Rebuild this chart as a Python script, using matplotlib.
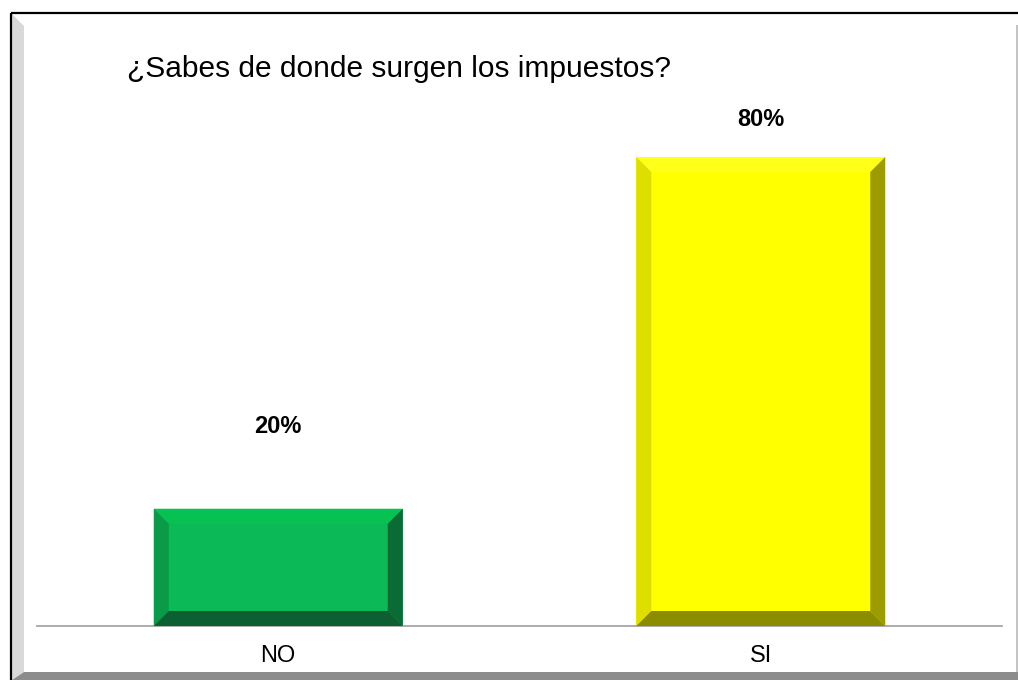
import matplotlib.pyplot as plt
from matplotlib.patches import Polygon, Rectangle
from matplotlib.transforms import IdentityTransform

plt.rcParams['font.family'] = ['Liberation Sans', 'DejaVu Sans']

# Datos de la encuesta
categorias = ['NO', 'SI']
porcentajes = [20, 80]
titulo = '¿Sabes de donde surgen los impuestos?'

# Colores de cada barra: cara, bisel sup, izq, der, inf
colores = {
    'NO': ['#0bba56', '#05c252', '#0a9a48', '#0b6b35', '#0b5f30'],
    'SI': ['#ffff00', '#ffff1a', '#dede00', '#9c9c00', '#8c8c00'],
}
label_pad = [82, 37]  # separación (px) entre la barra y su etiqueta
bisel = 15            # ancho del bisel en px

W, H, DPI = 1018, 680, 100
fig = plt.figure(figsize=(W / DPI, H / DPI), dpi=DPI)
fig.patch.set_facecolor('white')

# Marco exterior en coordenadas de pixel
bg = fig.add_axes([0, 0, 1, 1], zorder=-1)
bg.set_xlim(0, W)
bg.set_ylim(H, 0)
bg.axis('off')
bg.add_patch(Polygon([(12, 14), (24, 26), (24, 672), (12, 680)], closed=True,
                     facecolor='#d9d9d9', edgecolor='none'))
bg.add_patch(Polygon([(24, 672), (W, 672), (W, 680), (12, 680)], closed=True,
                     facecolor='#8c8c8c', edgecolor='none'))
bg.add_patch(Rectangle((1016, 25), 2, 647, facecolor='#c4c4c4', edgecolor='none'))
bg.add_patch(Rectangle((11, 13), 1100, 700, facecolor='none', edgecolor='black',
                       linewidth=1.6))

# Área de la gráfica
base_px, top_px = 626, 30
left_px, right_px = 37, 1002
px_por_unidad = (626 - 157) / 80
ax = fig.add_axes([left_px / W, (H - base_px) / H, (right_px - left_px) / W,
                   (base_px - top_px) / H])
ax.set_xlim(-0.5, 1.5)
ax.set_ylim(0, (base_px - top_px) / px_por_unidad)
ax.patch.set_alpha(0)
for s in ['top', 'left', 'right']:
    ax.spines[s].set_visible(False)
ax.spines['bottom'].set_color('#a6a6a6')
ax.spines['bottom'].set_linewidth(1.3)
ax.set_yticks([])
ax.set_xticks(range(len(categorias)))
ax.set_xticklabels(categorias, fontsize=17)
ax.tick_params(axis='x', length=0, pad=14)

barras = ax.bar(range(len(categorias)), porcentajes, width=0.516, zorder=2,
                color=[colores[c][0] for c in categorias])

# Biseles de cada barra
for rect, cat, val, pad in zip(barras, categorias, porcentajes, label_pad):
    (x0, y0), (x1, y1) = ax.transData.transform(
        [(rect.get_x(), 0), (rect.get_x() + rect.get_width(), val)])
    b = bisel
    cara, c_sup, c_izq, c_der, c_inf = colores[cat]
    caras = [
        ([(x0, y1), (x1, y1), (x1 - b, y1 - b), (x0 + b, y1 - b)], c_sup),
        ([(x0, y0), (x0 + b, y0 + b), (x0 + b, y1 - b), (x0, y1)], c_izq),
        ([(x1, y0), (x1, y1), (x1 - b, y1 - b), (x1 - b, y0 + b)], c_der),
        ([(x0, y0), (x1, y0), (x1 - b, y0 + b), (x0 + b, y0 + b)], c_inf),
    ]
    for pts, col in caras:
        ax.add_patch(Polygon(pts, closed=True, facecolor=col, edgecolor='none',
                             transform=IdentityTransform(), zorder=3))
    ax.annotate(f'{val}%', (rect.get_x() + rect.get_width() / 2, val),
                xytext=(0, pad * 72 / DPI), textcoords='offset points',
                ha='center', va='center', fontsize=17, fontweight='bold')

fig.text(127 / W, 1 - 77 / H, titulo, ha='left', va='baseline', fontsize=21.5)

fig.savefig('out.png', dpi=DPI)
